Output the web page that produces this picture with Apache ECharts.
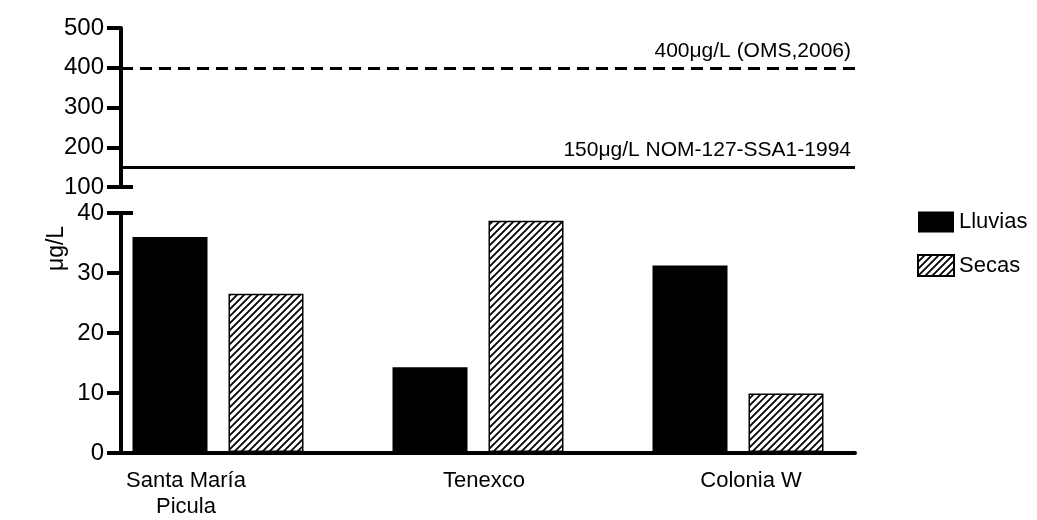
<!DOCTYPE html>
<html>
<head>
<meta charset="utf-8">
<script src="https://cdn.jsdelivr.net/npm/echarts@6/dist/echarts.min.js"></script>
<style>
html,body{margin:0;padding:0;background:#fff;}
#chart{width:1037px;height:520px;}
</style>
</head>
<body>
<div id="chart"></div>
<script>
// ---- data ----
const categories = ['Santa María\nPicula', 'Tenexco', 'Colonia W'];
const seriesNames = ['Lluvias', 'Secas'];
const lluvias = [36.0, 14.2, 31.2];
const secas = [26.5, 38.7, 9.8];
const thresholdValues = [400, 150];
const thresholdLabels = ['400μg/L (OMS,2006)', '150μg/L NOM-127-SSA1-1994'];
const lowerRange = [0, 40, 10];
const upperRange = [100, 500, 100];
const yName = 'μg/L';

// ---- styles ----
const FONT = 'Liberation Sans, Arial, sans-serif';
function hatch() {
  const c = document.createElement('canvas');
  const s = 7;
  c.width = s; c.height = s;
  const g = c.getContext('2d');
  g.fillStyle = '#fff';
  g.fillRect(0, 0, s, s);
  g.strokeStyle = '#000';
  g.lineWidth = 1.8;
  g.beginPath();
  g.moveTo(-1, s + 1); g.lineTo(s + 1, -1);
  g.moveTo(-1 - s, s + 1); g.lineTo(1, -1);
  g.moveTo(s - 1, s + 1); g.lineTo(2 * s + 1, -1);
  g.stroke();
  return c;
}
const hatchColor = { image: hatch(), repeat: 'repeat' };
const labelShift = [-32, 6, 13];

const chart = echarts.init(document.getElementById('chart'), null, { renderer: 'canvas' });
const axisLineStyle = { color: '#000', width: 4 };
const option = {
  animation: false,
  backgroundColor: '#fff',
  textStyle: { fontFamily: FONT, color: '#000' },
  grid: [
    { left: 121, right: 182, top: 28, height: 159 },   // upper
    { left: 121, right: 182, top: 213, height: 240 },  // lower axes
    { left: 88, right: 169, top: 213, height: 240 },   // bars
    { left: 121, right: 182, top: 36, height: 425 }    // axis name
  ],
  legend: {
    orient: 'vertical',
    left: 917,
    top: 211,
    padding: 0,
    itemWidth: 36,
    itemHeight: 21,
    itemGap: 21,
    icon: 'rect',
    data: seriesNames,
    textStyle: { fontFamily: FONT, fontSize: 22, color: '#000' }
  },
  xAxis: [
    { gridIndex: 0, type: 'value', min: 0, max: 1, show: false },
    { gridIndex: 1, type: 'value', min: 0, max: 1,
      axisLine: { show: true, lineStyle: axisLineStyle },
      axisTick: { show: false }, axisLabel: { show: false }, splitLine: { show: false } },
    { gridIndex: 2, type: 'category',
      data: categories.map((c, i) => ({
        value: c,
        textStyle: { padding: labelShift[i] < 0 ? [0, -2 * labelShift[i], 0, 0] : [0, 0, 0, 2 * labelShift[i]] }
      })),
      axisLine: { show: false }, axisTick: { show: false },
      axisLabel: { margin: 16, fontFamily: FONT, fontSize: 22, lineHeight: 26, color: '#000', interval: 0 } },
    { gridIndex: 3, type: 'value', min: 0, max: 1, show: false }
  ],
  yAxis: [
    { gridIndex: 0, type: 'value', min: upperRange[0], max: upperRange[1], interval: upperRange[2],
      axisLine: { show: true, lineStyle: axisLineStyle, symbol: ['rect', 'none'], symbolSize: [24, 4] },
      axisTick: { show: true, length: 14, lineStyle: { width: 4, color: '#000' } },
      axisLabel: { margin: 17, fontFamily: FONT, fontSize: 24, color: '#000' },
      splitLine: { show: false } },
    { gridIndex: 1, type: 'value', min: lowerRange[0], max: lowerRange[1], interval: lowerRange[2],
      axisLine: { show: true, lineStyle: axisLineStyle, symbol: ['none', 'rect'], symbolSize: [24, 4] },
      axisTick: { show: true, length: 14, lineStyle: { width: 4, color: '#000' } },
      axisLabel: { margin: 17, fontFamily: FONT, fontSize: 24, color: '#000' },
      splitLine: { show: false } },
    { gridIndex: 2, type: 'value', min: lowerRange[0], max: lowerRange[1], show: false },
    { gridIndex: 3, type: 'value', min: 0, max: 1,
      axisLine: { show: false }, axisTick: { show: false }, axisLabel: { show: false }, splitLine: { show: false },
      name: yName, nameLocation: 'middle', nameGap: 53,
      nameTextStyle: { fontFamily: FONT, fontSize: 23, color: '#000' } }
  ],
  series: [
    { name: seriesNames[0], type: 'bar', xAxisIndex: 2, yAxisIndex: 2, data: lluvias,
      barWidth: 75, barGap: '28%',
      itemStyle: { color: '#000' } },
    { name: seriesNames[1], type: 'bar', xAxisIndex: 2, yAxisIndex: 2, data: secas,
      barWidth: 75, barGap: '28%',
      itemStyle: { color: hatchColor, borderColor: '#000', borderWidth: 1.5 } },
    { type: 'line', xAxisIndex: 0, yAxisIndex: 0, data: [], silent: true,
      markLine: {
        symbol: 'none', silent: true, animation: false,
        data: thresholdValues.map((v, i) => ({
          yAxis: v,
          lineStyle: { color: '#000', width: 3, type: i === 0 ? [12, 7] : 'solid' },
          label: { show: true, position: 'insideEndTop', formatter: thresholdLabels[i],
                   fontFamily: FONT, fontSize: 21, color: '#000', distance: [4, 6] }
        }))
      } }
  ]
};
chart.setOption(option);
</script>
</body>
</html>
